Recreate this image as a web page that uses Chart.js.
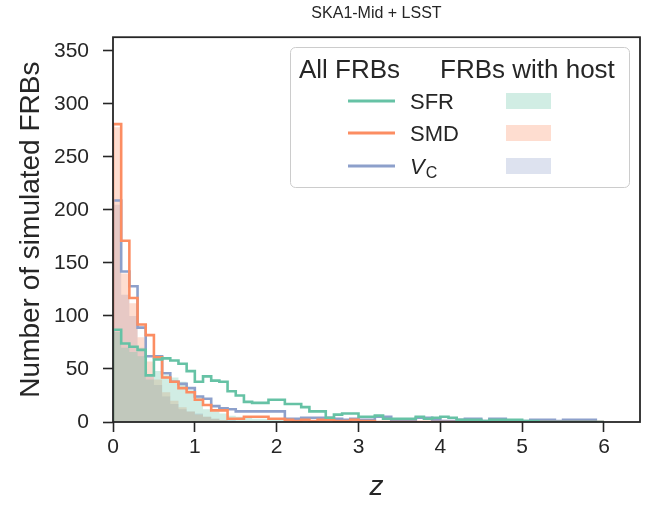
<!DOCTYPE html>
<html>
<head>
<meta charset="utf-8">
<script src="https://cdn.jsdelivr.net/npm/chart.js@4.4.1/dist/chart.umd.min.js"></script>
<style>
  html, body { margin: 0; padding: 0; background: #fff; }
  canvas { display: block; }
</style>
</head>
<body>
<canvas id="chart" width="660" height="506"></canvas>
<script>
// histogram bins: width 0.1 in z, starting at z = 0
const binWidth = 0.1;

// all simulated FRBs (step outlines)
const sfrAll = [87, 74, 71, 68, 44, 59, 60, 58, 55, 48, 38, 43, 39, 38, 29, 25, 19, 18, 18, 21,
  21, 17, 17, 14, 10, 10, 4, 7, 8, 8, 5, 5, 6, 3, 3, 3, 3, 5, 3, 4,
  5, 4, 2, 2, 2, 1, 2, 2, 2, 2, 1, 1, 0, 0, 0, 0, 0, 0, 0, 0];
const smdAll = [281, 171, 117, 92, 82, 61, 42, 38, 32, 28, 21, 16, 11, 11, 3, 3, 5, 5, 5, 3,
  3, 2, 1, 2, 1, 2, 2, 1, 1, 2, 1, 1, 0, 0, 0, 0, 0, 0, 0, 0,
  0, 0, 0, 0, 0, 0, 0, 0, 0, 0, 0, 0, 0, 0, 0, 0, 0, 0, 0, 0];
const vcAll = [209, 142, 128, 89, 62, 62, 46, 38, 36, 32, 24, 22, 15, 13, 12, 10, 10, 10, 10, 10,
  10, 3, 3, 4, 4, 4, 4, 3, 2, 3, 2, 2, 5, 5, 2, 2, 2, 4, 4, 2,
  1, 1, 2, 3, 3, 1, 3, 3, 1, 1, 1, 2, 2, 2, 1, 2, 2, 2, 2, 0];

// FRBs with an identified host (filled)
const sfrHost = [85, 70, 66, 62, 40, 48, 44, 42, 38, 30, 24, 12, 10, 8, 6, 5, 4, 3, 3, 2,
  2, 2, 1, 1, 1, 1, 0, 0, 0, 0, 0, 0, 0, 0, 0, 0, 0, 0, 0, 0,
  0, 0, 0, 0, 0, 0, 0, 0, 0, 0, 0, 0, 0, 0, 0, 0, 0, 0, 0, 0];
const smdHost = [278, 140, 112, 80, 57, 40, 28, 20, 14, 10, 7, 5, 3, 2, 1, 1, 1, 0, 0, 0,
  0, 0, 0, 0, 0, 0, 0, 0, 0, 0, 0, 0, 0, 0, 0, 0, 0, 0, 0, 0,
  0, 0, 0, 0, 0, 0, 0, 0, 0, 0, 0, 0, 0, 0, 0, 0, 0, 0, 0, 0];
const vcHost = [205, 120, 100, 70, 45, 35, 24, 17, 12, 10, 8, 5, 3, 2, 2, 1, 1, 1, 0, 0,
  0, 0, 0, 0, 0, 0, 0, 0, 0, 0, 0, 0, 0, 0, 0, 0, 0, 0, 0, 0,
  0, 0, 0, 0, 0, 0, 0, 0, 0, 0, 0, 0, 0, 0, 0, 0, 0, 0, 0, 0];

const xTicks = [0, 1, 2, 3, 4, 5, 6];
const yTicks = [0, 50, 100, 150, 200, 250, 300, 350];
const seriesNames = ["SFR", "SMD", "V"];

const colGreen = "#66c2a5";
const colOrange = "#fc8d62";
const colBlue = "#8da0cb";
const ink = "#262626";
const font = "'Liberation Sans', Arial, sans-serif";

// left edge of each bin carries its count; closing point drops back to 0
function stepPoints(counts) {
  const pts = [{ x: 0, y: 0 }];
  counts.forEach((c, i) => pts.push({ x: +(i * binWidth).toFixed(2), y: c }));
  pts.push({ x: +(counts.length * binWidth).toFixed(2), y: counts[counts.length - 1] });
  pts.push({ x: +(counts.length * binWidth).toFixed(2), y: 0 });
  return pts;
}

function fillSet(counts, color) {
  return {
    data: stepPoints(counts),
    stepped: "before",
    borderWidth: 0,
    pointRadius: 0,
    fill: "origin",
    backgroundColor: color,
    order: 2
  };
}

function lineSet(counts, color) {
  return {
    data: stepPoints(counts),
    stepped: "before",
    borderWidth: 2.6,
    borderColor: color,
    borderJoinStyle: "miter",
    pointRadius: 0,
    fill: false,
    order: 1
  };
}

// frame on all four sides, drawn above the data like matplotlib spines
const framePlugin = {
  id: "frame",
  afterDatasetsDraw(chart) {
    const { ctx, chartArea: a } = chart;
    ctx.save();
    ctx.strokeStyle = ink;
    ctx.lineWidth = 1.8;
    ctx.strokeRect(a.left, a.top, a.right - a.left, a.bottom - a.top);
    ctx.restore();
  }
};

// two-column legend: outlines for all FRBs, patches for FRBs with host
const legendPlugin = {
  id: "twoColLegend",
  afterDraw(chart) {
    const ctx = chart.ctx;
    ctx.save();
    ctx.beginPath();
    ctx.roundRect(290.5, 47.5, 339, 140, 5);
    ctx.fillStyle = "rgba(255,255,255,0.85)";
    ctx.fill();
    ctx.strokeStyle = "#cccccc";
    ctx.lineWidth = 1;
    ctx.stroke();

    ctx.fillStyle = ink;
    ctx.textBaseline = "alphabetic";
    ctx.font = "26px " + font;
    ctx.fillText("All FRBs", 299, 78);
    ctx.fillText("FRBs with host", 440, 78);

    const lineCols = [colGreen, colOrange, colBlue];
    const rows = [101, 133, 166];
    rows.forEach((y, i) => {
      ctx.strokeStyle = lineCols[i];
      ctx.lineWidth = 2.8;
      ctx.beginPath();
      ctx.moveTo(348, y);
      ctx.lineTo(395, y);
      ctx.stroke();

      ctx.globalAlpha = 0.3;
      ctx.fillStyle = lineCols[i];
      ctx.fillRect(506, y - 8, 45, 16);
      ctx.globalAlpha = 1;

      ctx.fillStyle = ink;
      if (i < 2) {
        ctx.font = "22px " + font;
        ctx.fillText(seriesNames[i], 410, y + 8);
      } else {
        ctx.font = "italic 22px " + font;
        ctx.fillText(seriesNames[i], 410, y + 8);
        const w = ctx.measureText(seriesNames[i]).width;
        ctx.font = "16px " + font;
        ctx.fillText("C", 410 + w + 1, y + 12);
      }
    });
    ctx.restore();
  }
};

new Chart(document.getElementById("chart"), {
  type: "line",
  data: {
    datasets: [
      fillSet(sfrHost, "rgba(102,194,165,0.3)"),
      fillSet(smdHost, "rgba(252,141,98,0.3)"),
      fillSet(vcHost, "rgba(141,160,203,0.3)"),
      lineSet(sfrAll, colGreen),
      lineSet(smdAll, colOrange),
      lineSet(vcAll, colBlue)
    ]
  },
  options: {
    responsive: false,
    animation: false,
    layout: { padding: { left: 0, right: 20, top: 0, bottom: 0 } },
    plugins: {
      legend: { display: false },
      tooltip: { enabled: false },
      title: {
        display: true,
        text: "SKA1-Mid + LSST",
        fullSize: false,
        color: ink,
        font: { family: font, size: 16, weight: "normal" },
        padding: { top: 4, bottom: 14 }
      }
    },
    scales: {
      x: {
        type: "linear",
        min: 0,
        max: 6.44,
        afterFit: s => { s.height = 84; },
        afterBuildTicks: s => { s.ticks = xTicks.map(v => ({ value: v })); },
        border: { display: false },
        grid: { drawOnChartArea: false, drawTicks: true, tickLength: 10, tickColor: ink, tickWidth: 1.6 },
        ticks: { color: ink, font: { family: font, size: 21 }, padding: 3, maxRotation: 0 },
        title: {
          display: true,
          text: "z",
          color: ink,
          font: { family: font, size: 28, style: "italic" },
          padding: { top: 0, bottom: 2 }
        }
      },
      y: {
        min: 0,
        max: 363,
        afterFit: s => { s.width = 113; },
        afterBuildTicks: s => { s.ticks = yTicks.map(v => ({ value: v })); },
        border: { display: false },
        grid: { drawOnChartArea: false, drawTicks: true, tickLength: 10, tickColor: ink, tickWidth: 1.6 },
        ticks: { color: ink, font: { family: font, size: 21 }, padding: 14 },
        title: {
          display: true,
          text: "Number of simulated FRBs",
          color: ink,
          font: { family: font, size: 28 },
          padding: { top: 14, bottom: 0 }
        }
      }
    }
  },
  plugins: [framePlugin, legendPlugin]
});
</script>
</body>
</html>
